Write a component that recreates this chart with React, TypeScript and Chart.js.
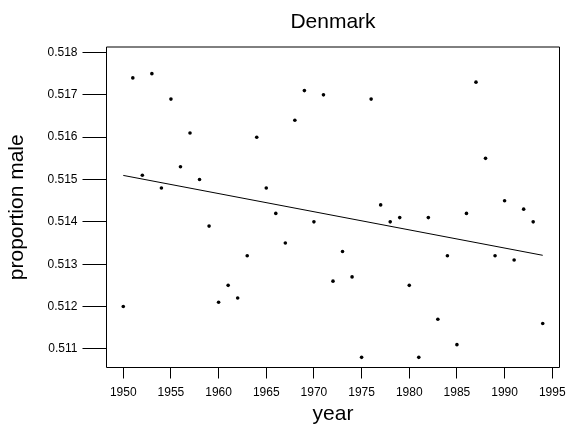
import React, { useEffect, useRef } from 'react';
import { Chart, registerables } from 'chart.js';

Chart.register(...registerables);

// Annual proportion of male births, Denmark
const years = [
  1950, 1951, 1952, 1953, 1954, 1955, 1956, 1957, 1958, 1959,
  1960, 1961, 1962, 1963, 1964, 1965, 1966, 1967, 1968, 1969,
  1970, 1971, 1972, 1973, 1974, 1975, 1976, 1977, 1978, 1979,
  1980, 1981, 1982, 1983, 1984, 1985, 1986, 1987, 1988, 1989,
  1990, 1991, 1992, 1993, 1994,
];
const proportionMale = [
  0.512, 0.5174, 0.5151, 0.5175, 0.5148, 0.5169, 0.5153, 0.5161, 0.515, 0.5139,
  0.5121, 0.5125, 0.5122, 0.5132, 0.516, 0.5148, 0.5142, 0.5135, 0.5164, 0.5171,
  0.514, 0.517, 0.5126, 0.5133, 0.5127, 0.5108, 0.5169, 0.5144, 0.514, 0.5141,
  0.5125, 0.5108, 0.5141, 0.5117, 0.5132, 0.5111, 0.5142, 0.5173, 0.5155, 0.5132,
  0.5145, 0.5131, 0.5143, 0.514, 0.5116,
];

const xTicks = [1950, 1955, 1960, 1965, 1970, 1975, 1980, 1985, 1990, 1995];
const yTicks = [0.511, 0.512, 0.513, 0.514, 0.515, 0.516, 0.517, 0.518];
const xLimits = [1948.24, 1995.76];
const yLimits = [0.51056, 0.51813];

const FONT = "'Liberation Sans', Arial, Helvetica, sans-serif";

// Ordinary least-squares fit of proportion on year
function leastSquares(xs: number[], ys: number[]) {
  const n = xs.length;
  const mx = xs.reduce((a, b) => a + b, 0) / n;
  const my = ys.reduce((a, b) => a + b, 0) / n;
  let sxy = 0;
  let sxx = 0;
  for (let i = 0; i < n; i++) {
    sxy += (xs[i] - mx) * (ys[i] - my);
    sxx += (xs[i] - mx) * (xs[i] - mx);
  }
  const slope = sxy / sxx;
  return { slope, intercept: my - slope * mx };
}

// Frame around the plotting region
const boxPlugin = {
  id: 'plotBox',
  afterDraw(chart: any) {
    const { ctx, chartArea } = chart;
    const { left, right, top, bottom } = chartArea;
    ctx.save();
    ctx.strokeStyle = '#000';
    ctx.lineWidth = 1;
    ctx.beginPath();
    ctx.moveTo(left, top);
    ctx.lineTo(right, top);
    ctx.lineTo(right, bottom);
    ctx.lineTo(left, bottom);
    ctx.closePath();
    ctx.stroke();
    ctx.restore();
  },
};

export default function App() {
  const canvasRef = useRef<HTMLCanvasElement | null>(null);

  useEffect(() => {
    const canvas = canvasRef.current;
    if (!canvas) return;

    const fit = leastSquares(years, proportionMale);
    const x0 = years[0];
    const x1 = years[years.length - 1];

    const chart = new Chart(canvas, {
      type: 'scatter',
      data: {
        datasets: [
          {
            label: 'proportion male',
            data: years.map((yr, i) => ({ x: yr, y: proportionMale[i] })),
            backgroundColor: '#000',
            borderColor: '#000',
            borderWidth: 0,
            pointRadius: 1.8,
            pointHoverRadius: 1.8,
          },
          {
            label: 'trend',
            type: 'line',
            data: [
              { x: x0, y: fit.intercept + fit.slope * x0 },
              { x: x1, y: fit.intercept + fit.slope * x1 },
            ],
            borderColor: '#000',
            borderWidth: 1,
            pointRadius: 0,
            showLine: true,
            fill: false,
          } as any,
        ],
      },
      options: {
        responsive: false,
        animation: false,
        devicePixelRatio: 1,
        layout: { padding: { left: 0, right: 6.5, top: 0, bottom: 0 } },
        plugins: {
          legend: { display: false },
          tooltip: { enabled: false },
          title: {
            display: true,
            text: 'Denmark',
            fullSize: false,
            color: '#000',
            font: { family: FONT, size: 21, weight: 'normal', lineHeight: 1.2 },
            padding: { top: 9.4, bottom: 12.4 },
          },
        },
        scales: {
          x: {
            type: 'linear',
            min: xLimits[0],
            max: xLimits[1],
            afterBuildTicks: (s: any) => {
              s.ticks = xTicks.map((v) => ({ value: v }));
            },
            afterFit: (s: any) => {
              s.height = 58.5;
              s.paddingLeft = 0;
              s.paddingRight = 0;
            },
            border: { display: false },
            grid: {
              drawOnChartArea: false,
              drawTicks: true,
              tickLength: 11,
              color: '#000',
              lineWidth: 1,
            },
            ticks: {
              padding: 7,
              color: '#000',
              autoSkip: false,
              maxRotation: 0,
              font: { family: FONT, size: 12 },
              callback: (v: any) => String(v),
            },
            title: {
              display: true,
              text: 'year',
              color: '#000',
              font: { family: FONT, size: 21, lineHeight: 1.1 },
              padding: { top: 0, bottom: 0 },
            },
          },
          y: {
            type: 'linear',
            min: yLimits[0],
            max: yLimits[1],
            afterBuildTicks: (s: any) => {
              s.ticks = yTicks.map((v) => ({ value: v }));
            },
            afterFit: (s: any) => {
              s.width = 106.5;
              s.paddingTop = 0;
              s.paddingBottom = 0;
            },
            border: { display: false },
            grid: {
              drawOnChartArea: false,
              drawTicks: true,
              tickLength: 24,
              color: '#000',
              lineWidth: 1,
            },
            ticks: {
              padding: 5,
              color: '#000',
              autoSkip: false,
              font: { family: FONT, size: 12 },
              callback: (v: any) => Number(v).toFixed(3),
            },
            title: {
              display: true,
              text: 'proportion male',
              color: '#000',
              font: { family: FONT, size: 21, lineHeight: 1.1 },
              padding: { top: 6, bottom: 0 },
            },
          },
        },
      },
      plugins: [boxPlugin],
    });

    return () => chart.destroy();
  }, []);

  return (
    <div style={{ position: 'fixed', left: 0, top: 0, width: 566, height: 426, background: '#fff' }}>
      <canvas ref={canvasRef} width={566} height={426} style={{ display: 'block' }} />
    </div>
  );
}
